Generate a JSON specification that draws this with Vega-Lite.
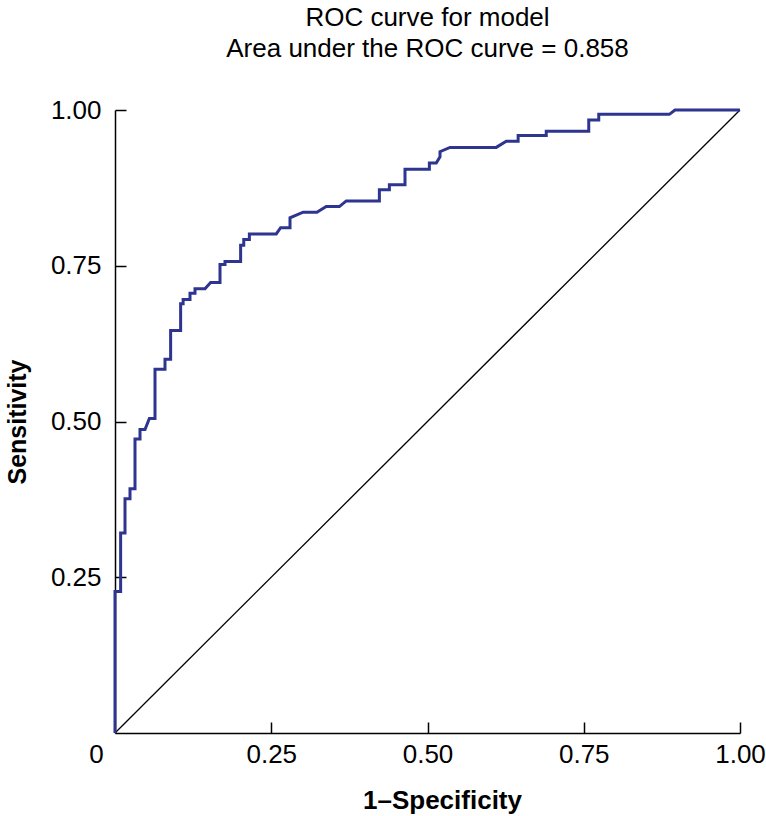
{
  "$schema": "https://vega.github.io/schema/vega-lite/v6.json",
  "width": 625,
  "height": 623,
  "autosize": "none",
  "padding": {"left": 115, "top": 110, "right": 26, "bottom": 83},
  "config": {"view": {"stroke": null}, "font": "Liberation Sans"},
  "title": {
    "text": ["ROC curve for model", "Area under the ROC curve = 0.858"],
    "fontSize": 26,
    "fontWeight": "normal",
    "lineHeight": 31,
    "offset": 35,
    "anchor": "middle",
    "color": "black",
    "font": "Liberation Sans"
  },
  "datasets": {
    "diag": [{"fpr": 0, "tpr": 0}, {"fpr": 1, "tpr": 1}],
    "roc": [
      {"i": 0, "fpr": 0, "tpr": 0},
      {"i": 1, "fpr": 0, "tpr": 0.227},
      {"i": 2, "fpr": 0.009, "tpr": 0.227},
      {"i": 3, "fpr": 0.009, "tpr": 0.321},
      {"i": 4, "fpr": 0.016, "tpr": 0.321},
      {"i": 5, "fpr": 0.016, "tpr": 0.376},
      {"i": 6, "fpr": 0.024, "tpr": 0.376},
      {"i": 7, "fpr": 0.024, "tpr": 0.392},
      {"i": 8, "fpr": 0.032, "tpr": 0.392},
      {"i": 9, "fpr": 0.032, "tpr": 0.472},
      {"i": 10, "fpr": 0.04, "tpr": 0.472},
      {"i": 11, "fpr": 0.04, "tpr": 0.487},
      {"i": 12, "fpr": 0.048, "tpr": 0.487},
      {"i": 13, "fpr": 0.055, "tpr": 0.505},
      {"i": 14, "fpr": 0.064, "tpr": 0.505},
      {"i": 15, "fpr": 0.064, "tpr": 0.584},
      {"i": 16, "fpr": 0.08, "tpr": 0.584},
      {"i": 17, "fpr": 0.08, "tpr": 0.6},
      {"i": 18, "fpr": 0.089, "tpr": 0.6},
      {"i": 19, "fpr": 0.089, "tpr": 0.646},
      {"i": 20, "fpr": 0.105, "tpr": 0.646},
      {"i": 21, "fpr": 0.105, "tpr": 0.689},
      {"i": 22, "fpr": 0.109, "tpr": 0.689},
      {"i": 23, "fpr": 0.109, "tpr": 0.696},
      {"i": 24, "fpr": 0.12, "tpr": 0.696},
      {"i": 25, "fpr": 0.12, "tpr": 0.706},
      {"i": 26, "fpr": 0.128, "tpr": 0.706},
      {"i": 27, "fpr": 0.128, "tpr": 0.713},
      {"i": 28, "fpr": 0.144, "tpr": 0.713},
      {"i": 29, "fpr": 0.153, "tpr": 0.723},
      {"i": 30, "fpr": 0.168, "tpr": 0.723},
      {"i": 31, "fpr": 0.168, "tpr": 0.752},
      {"i": 32, "fpr": 0.176, "tpr": 0.752},
      {"i": 33, "fpr": 0.176, "tpr": 0.757},
      {"i": 34, "fpr": 0.201, "tpr": 0.757},
      {"i": 35, "fpr": 0.201, "tpr": 0.783},
      {"i": 36, "fpr": 0.206, "tpr": 0.783},
      {"i": 37, "fpr": 0.206, "tpr": 0.792},
      {"i": 38, "fpr": 0.215, "tpr": 0.792},
      {"i": 39, "fpr": 0.215, "tpr": 0.801},
      {"i": 40, "fpr": 0.258, "tpr": 0.801},
      {"i": 41, "fpr": 0.265, "tpr": 0.811},
      {"i": 42, "fpr": 0.28, "tpr": 0.811},
      {"i": 43, "fpr": 0.28, "tpr": 0.827},
      {"i": 44, "fpr": 0.301, "tpr": 0.836},
      {"i": 45, "fpr": 0.323, "tpr": 0.836},
      {"i": 46, "fpr": 0.338, "tpr": 0.845},
      {"i": 47, "fpr": 0.359, "tpr": 0.845},
      {"i": 48, "fpr": 0.37, "tpr": 0.854},
      {"i": 49, "fpr": 0.423, "tpr": 0.854},
      {"i": 50, "fpr": 0.423, "tpr": 0.872},
      {"i": 51, "fpr": 0.439, "tpr": 0.872},
      {"i": 52, "fpr": 0.439, "tpr": 0.88},
      {"i": 53, "fpr": 0.464, "tpr": 0.88},
      {"i": 54, "fpr": 0.464, "tpr": 0.905},
      {"i": 55, "fpr": 0.503, "tpr": 0.905},
      {"i": 56, "fpr": 0.503, "tpr": 0.915},
      {"i": 57, "fpr": 0.514, "tpr": 0.915},
      {"i": 58, "fpr": 0.52, "tpr": 0.925},
      {"i": 59, "fpr": 0.52, "tpr": 0.933},
      {"i": 60, "fpr": 0.536, "tpr": 0.94},
      {"i": 61, "fpr": 0.61, "tpr": 0.94},
      {"i": 62, "fpr": 0.626, "tpr": 0.95},
      {"i": 63, "fpr": 0.645, "tpr": 0.95},
      {"i": 64, "fpr": 0.645, "tpr": 0.959},
      {"i": 65, "fpr": 0.69, "tpr": 0.959},
      {"i": 66, "fpr": 0.69, "tpr": 0.966},
      {"i": 67, "fpr": 0.758, "tpr": 0.966},
      {"i": 68, "fpr": 0.758, "tpr": 0.984},
      {"i": 69, "fpr": 0.774, "tpr": 0.984},
      {"i": 70, "fpr": 0.774, "tpr": 0.993},
      {"i": 71, "fpr": 0.887, "tpr": 0.993},
      {"i": 72, "fpr": 0.896, "tpr": 1},
      {"i": 73, "fpr": 1, "tpr": 1}
    ]
  },
  "layer": [
    {
      "data": {"name": "diag"},
      "mark": {"type": "line", "color": "black", "strokeWidth": 1.3},
      "encoding": {
        "x": {
          "field": "fpr",
          "type": "quantitative",
          "scale": {"domain": [0, 1], "nice": false, "zero": false},
          "axis": {
            "title": "1–Specificity",
            "values": [0, 0.25, 0.5, 0.75, 1],
            "labelExpr": "datum.value == 0 ? '0' : format(datum.value, '.2f')",
            "grid": false,
            "domainColor": "black",
            "domainWidth": 1.5,
            "tickColor": "black",
            "tickWidth": 1.5,
            "tickSize": -11,
            "tickOpacity": {"condition": {"test": "datum.value == 0", "value": 0}, "value": 1},
            "labelOffset": {"condition": {"test": "datum.value == 0", "value": -19}, "value": 0},
            "labelPadding": 19,
            "labelFlush": false,
            "labelOverlap": false,
            "labelBound": false,
            "labelFontSize": 26,
            "labelColor": "black",
            "labelFont": "Liberation Sans",
            "titleFontSize": 26,
            "titleFontWeight": "bold",
            "titleFont": "Liberation Sans",
            "titleColor": "black",
            "titlePadding": 20,
            "titleX": 327
          }
        },
        "y": {
          "field": "tpr",
          "type": "quantitative",
          "scale": {"domain": [0, 1], "nice": false, "zero": false},
          "axis": {
            "title": "Sensitivity",
            "values": [0.25, 0.5, 0.75, 1],
            "labelExpr": "format(datum.value, '.2f')",
            "grid": false,
            "domainColor": "black",
            "domainWidth": 1.5,
            "tickColor": "black",
            "tickWidth": 1.5,
            "tickSize": -11,
            "labelPadding": 25,
            "labelFlush": false,
            "labelOverlap": false,
            "labelBound": false,
            "labelFontSize": 26,
            "labelColor": "black",
            "labelFont": "Liberation Sans",
            "titleFontSize": 25,
            "titleFontWeight": "bold",
            "titleFont": "Liberation Sans",
            "titleColor": "black",
            "titlePadding": 20
          }
        }
      }
    },
    {
      "data": {"name": "roc"},
      "mark": {"type": "line", "color": "#2d3590", "strokeWidth": 3, "strokeJoin": "miter"},
      "encoding": {
        "x": {"field": "fpr", "type": "quantitative"},
        "y": {"field": "tpr", "type": "quantitative"},
        "order": {"field": "i", "type": "quantitative"}
      }
    }
  ]
}
